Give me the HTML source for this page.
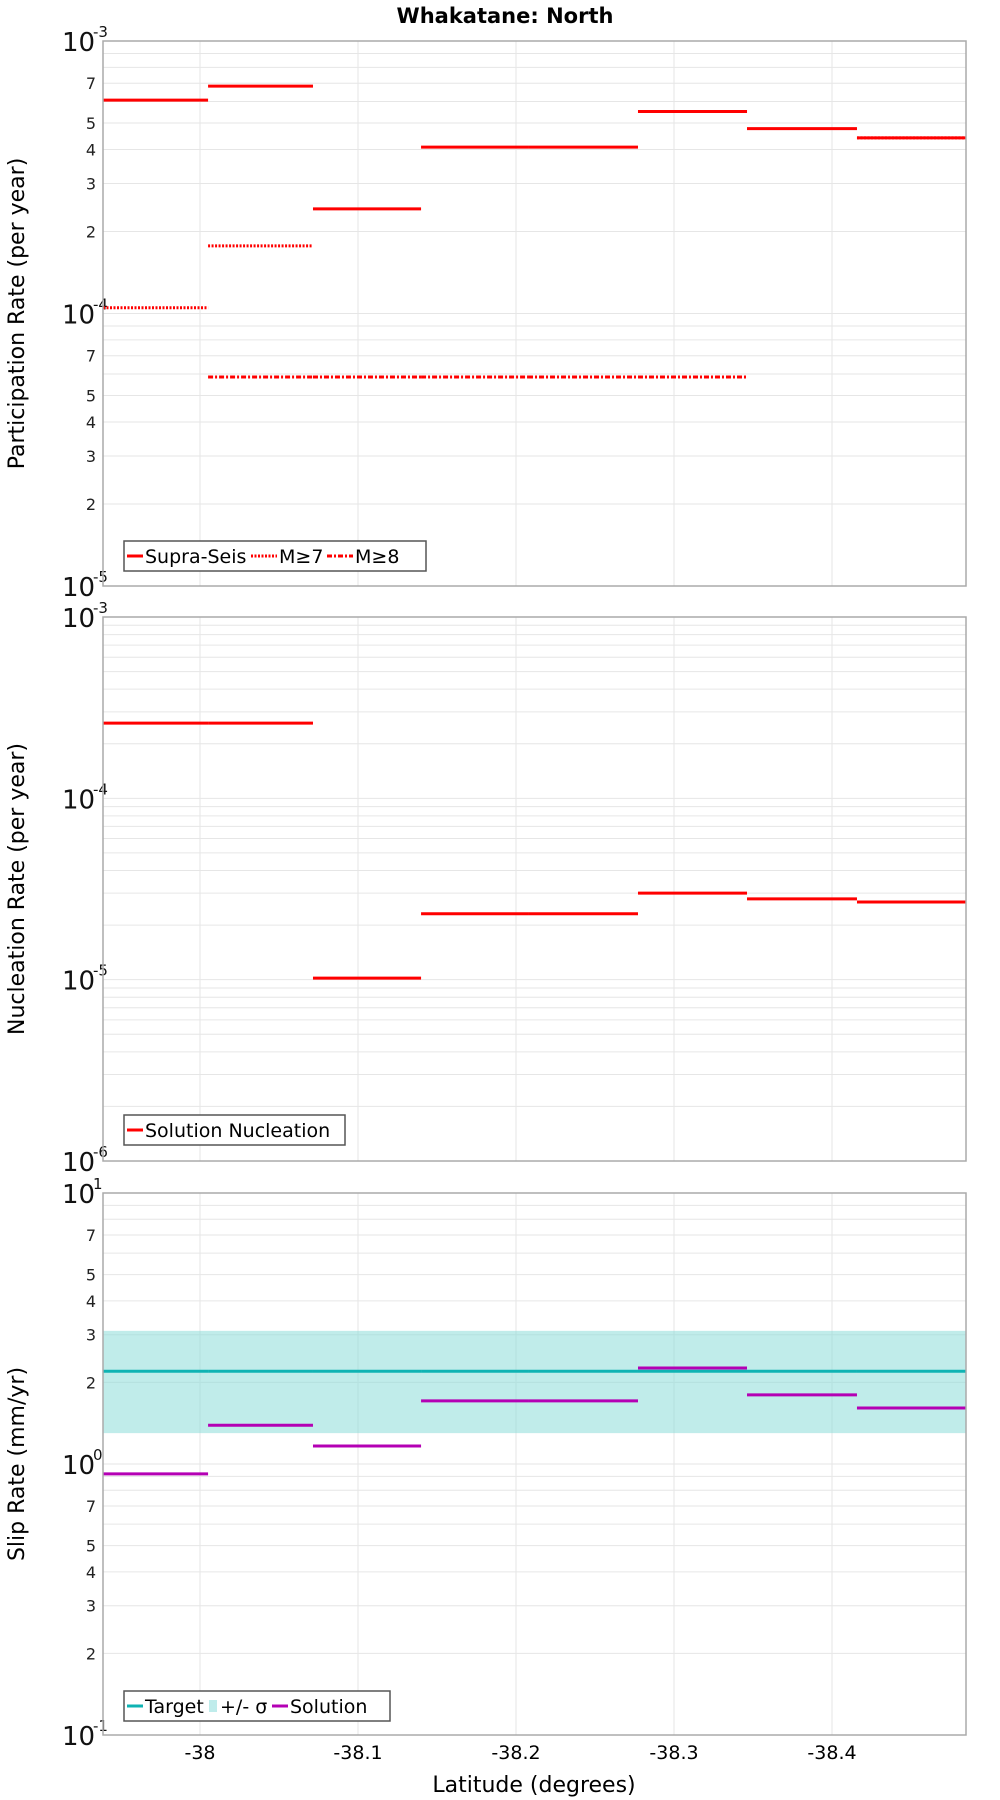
<!DOCTYPE html>
<html><head><meta charset="utf-8"><style>
html,body{margin:0;padding:0;background:#fff}
svg{display:block;font-family:"DejaVu Sans","Liberation Sans",sans-serif}
</style></head><body>
<svg id="chart" width="1000" height="1800" viewBox="0 0 1000 1800" xmlns="http://www.w3.org/2000/svg">
<text x="505" y="23" text-anchor="middle" font-size="21" font-weight="bold">Whakatane: North</text>
<text x="534" y="1792" text-anchor="middle" font-size="22">Latitude (degrees)</text>
</svg>
<script>
const segBounds = [-37.9386, -38.0051, -38.0715, -38.1399, -38.2076, -38.2772, -38.3462, -38.4158, -38.4848];
const xTicks = [-38, -38.1, -38.2, -38.3, -38.4];
const xTickLabels = ["-38", "-38.1", "-38.2", "-38.3", "-38.4"];
const supraSeis = [6.07e-4, 6.83e-4, 2.42e-4, 4.08e-4, 4.08e-4, 5.51e-4, 4.77e-4, 4.41e-4];
const m7 = [1.05e-4, 1.77e-4, null, null, null, 5.51e-4, null, 4.41e-4];
const m8 = [null, 5.85e-5, 5.85e-5, 5.85e-5, 5.85e-5, 5.85e-5, null, null];
const nucleation = [2.60e-4, 2.60e-4, 1.02e-5, 2.31e-5, 2.31e-5, 3.0e-5, 2.79e-5, 2.68e-5];
const slipTarget = [2.20, 2.20, 2.20, 2.20, 2.20, 2.20, 2.20, 2.20];
const slipLow = 1.30, slipHigh = 3.10;
const slipSolution = [0.92, 1.39, 1.165, 1.71, 1.71, 2.26, 1.80, 1.61];

const NS = "http://www.w3.org/2000/svg";
const svg = document.getElementById('chart');
const L = 103, R = 966;
const xMin = -37.9386, xMax = -38.4848;
function xs(v){ return L + (v - xMin) / (xMax - xMin) * (R - L); }
function mk(tag, attrs, parent){
  const e = document.createElementNS(NS, tag);
  for (const k in attrs) e.setAttribute(k, attrs[k]);
  (parent || svg).appendChild(e);
  return e;
}
function makePanel(name, top, bottom, eMin, eMax, title, minorLabels){
  const g = mk('g', {});
  
  
  const ys = v => bottom - (Math.log10(v) - eMin) / (eMax - eMin) * (bottom - top);
  for (let e = eMin; e < eMax; e++) {
    for (let m = 1; m <= 9; m++) {
      const y = ys(m * Math.pow(10, e));
      const gl = mk('line', {x1: L, x2: R, y1: y, y2: y, stroke: '#e6e6e6', 'stroke-width': 1}, g);
      
      
      if (minorLabels && [2,3,4,5,7].includes(m)) {
        const t = mk('text', {x: 96, y: y + 6, 'text-anchor': 'end', 'font-size': 16, fill: '#222'}, g);
        
        
        t.textContent = m;
      }
    }
  }
  for (let e = eMin; e <= eMax; e++) {
    const y = ys(Math.pow(10, e));
    const t = mk('text', {x: 62, y: y + 10, 'font-size': 26, fill: '#111'}, g);
    
    
    t.textContent = '10';
    const s = mk('text', {x: 93, y: y - 4, 'font-size': 15, fill: '#111'}, g);
    
    
    s.textContent = String(e);
  }
  xTicks.forEach(v => {
    const gl = mk('line', {x1: xs(v), x2: xs(v), y1: top, y2: bottom, stroke: '#e6e6e6', 'stroke-width': 1}, g);
    
    
  });
  const yt = mk('text', {x: 0, y: 0, 'font-size': 22, 'text-anchor': 'middle', transform: `translate(24,${(top+bottom)/2}) rotate(-90)`}, g);
  
  
  yt.textContent = title;
  return {g, ys};
}
function segs(p, vals, color, dash, name, width){
  vals.forEach((v, i) => {
    if (v == null) return;
    const y = p.ys(v);
    const a = {x1: xs(segBounds[i]), x2: xs(segBounds[i+1]), y1: y, y2: y, stroke: color, 'stroke-width': width || 3};
    if (dash) a['stroke-dasharray'] = dash;
    const l = mk('line', a, p.g);
    
    
  });
}
function frame(p, top, bottom){
  const r = mk('rect', {x: L, y: top, width: R - L, height: bottom - top, fill: 'none', stroke: '#aaa', 'stroke-width': 1.5}, p.g);
  
  
}
function legend(p, x, y, w, items){
  const lg = mk('g', {}, p.g);
  
  
  mk('rect', {x: x, y: y, width: w, height: 30, fill: '#fff', stroke: '#555', 'stroke-width': 1.5}, lg);
  let cx = x + 3;
  items.forEach(it => {
    const e = mk('g', {}, lg);
    
    
    const lw = it.lw || 16;
    if (it.box) mk('rect', {x: cx + 2, y: y + 9, width: 8, height: 12, fill: it.color}, e);
    else {
      const a = {x1: cx, x2: cx + lw, y1: y + 15, y2: y + 15, stroke: it.color, 'stroke-width': 3};
      if (it.dash) a['stroke-dasharray'] = it.dash;
      mk('line', a, e);
    }
    const off = it.box ? 13 : lw + 2;
    const t = mk('text', {x: cx + off, y: y + 22, 'font-size': 19}, e);
    t.textContent = it.label;
    cx += off + it.w;
  });
}
const p1 = makePanel('participation', 41, 586, -5, -3, 'Participation Rate (per year)', true);
segs(p1, supraSeis, '#f00', null, 'supra-seis-segment');
segs(p1, m7, '#f00', '2,1.5', 'm7-segment');
segs(p1, m8, '#f00', '5,2,2,2', 'm8-segment');
frame(p1, 41, 586);
legend(p1, 124, 541, 302, [
  {label: 'Supra-Seis', color: '#f00', w: 106},
  {label: 'M≥7', color: '#f00', dash: '2,1.5', w: 48, lw: 26},
  {label: 'M≥8', color: '#f00', dash: '5,2,2,2', w: 45, lw: 26}
]);
const p2 = makePanel('nucleation', 617, 1161, -6, -3, 'Nucleation Rate (per year)', false);
segs(p2, nucleation, '#f00', null, 'nucleation-segment');
frame(p2, 617, 1161);
legend(p2, 124, 1115, 221, [{label: 'Solution Nucleation', color: '#f00', w: 190}]);
const p3 = makePanel('slip-rate', 1193, 1735, -1, 1, 'Slip Rate (mm/yr)', true);
const band = mk('rect', {x: L, y: p3.ys(slipHigh), width: R - L, height: p3.ys(slipLow) - p3.ys(slipHigh), fill: '#8cdcd8', 'fill-opacity': 0.55}, p3.g);


segs(p3, slipTarget, '#0fb3b3', null, 'target-segment');
segs(p3, slipSolution, '#b400b4', null, 'solution-segment');
frame(p3, 1193, 1735);
legend(p3, 124, 1691, 266, [
  {label: 'Target', color: '#0fb3b3', w: 62},
  {label: '+/- σ', color: '#bfeceb', box: true, w: 52},
  {label: 'Solution', color: '#b400b4', w: 80}
]);
xTicks.forEach((v, i) => {
  const t = mk('text', {x: xs(v), y: 1759, 'text-anchor': 'middle', 'font-size': 19});
  
  
  t.textContent = xTickLabels[i];
});
</script>
</body></html>
